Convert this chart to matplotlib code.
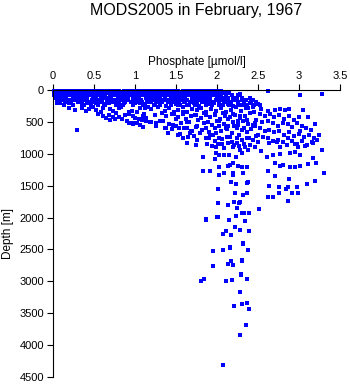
import numpy as np
import matplotlib
matplotlib.use('Agg')
import matplotlib.pyplot as plt

plt.rcParams['font.family'] = ['Liberation Sans', 'DejaVu Sans']

## phosphate [umol/l] vs depth [m] ##

# near-surface band: depth of each row and phosphate values along it
band_depths = [8, 45, 85, 120, 155, 195, 235]
band_phos = [
    [0.01, 0.05, 0.09, 0.14, 0.17, 0.21, 0.26, 0.29, 0.33, 0.38, 0.41, 0.45, 0.50, 0.53,
     0.57, 0.62, 0.65, 0.69, 0.74, 0.77, 0.81, 0.86, 0.89, 0.93, 0.98, 1.01, 1.05, 1.10,
     1.13, 1.17, 1.22, 1.25, 1.29, 1.34, 1.37, 1.41, 1.46, 1.49, 1.53, 1.58, 1.61, 1.65,
     1.70, 1.73, 1.77, 1.82, 1.85, 1.89, 1.94, 1.97, 2.01, 2.05, 2.62],
    [0.02, 0.06, 0.10, 0.13, 0.18, 0.22, 0.25, 0.30, 0.34, 0.37, 0.42, 0.46, 0.49, 0.54,
     0.58, 0.61, 0.66, 0.70, 0.73, 0.78, 0.82, 0.85, 0.90, 0.94, 0.97, 1.02, 1.06, 1.09,
     1.14, 1.18, 1.21, 1.26, 1.30, 1.33, 1.38, 1.42, 1.45, 1.50, 1.54, 1.57, 1.62, 1.66,
     1.69, 1.74, 1.78, 1.81, 1.86, 1.90, 1.93, 1.98, 2.02, 2.06, 2.10, 2.15],
    [0.01, 0.04, 0.09, 0.12, 0.16, 0.21, 0.24, 0.28, 0.33, 0.36, 0.40, 0.45, 0.48, 0.52,
     0.57, 0.60, 0.64, 0.69, 0.72, 0.76, 0.81, 0.84, 0.88, 0.93, 0.96, 1.00, 1.05, 1.08,
     1.12, 1.17, 1.20, 1.24, 1.29, 1.32, 1.36, 1.41, 1.44, 1.48, 1.53, 1.56, 1.60, 1.65,
     1.68, 1.72, 1.77, 1.80, 1.84, 1.89, 1.92, 1.96, 2.00, 2.05, 2.11, 2.18, 2.26],
    [0.03, 0.07, 0.12, 0.16, 0.24, 0.28, 0.33, 0.37, 0.41, 0.49, 0.53, 0.58, 0.62, 0.66,
     0.71, 0.79, 0.83, 0.88, 0.92, 0.97, 1.01, 1.05, 1.13, 1.18, 1.22, 1.27, 1.31, 1.36,
     1.44, 1.48, 1.52, 1.57, 1.61, 1.70, 1.74, 1.79, 1.83, 1.88, 1.92, 2.00, 2.04, 2.09,
     2.13, 2.19, 2.24, 2.31, 2.40],
    [0.05, 0.11, 0.19, 0.26, 0.31, 0.39, 0.47, 0.55, 0.60, 0.68, 0.75, 0.84, 0.90, 0.99,
     1.07, 1.15, 1.21, 1.29, 1.35, 1.42, 1.50, 1.56, 1.63, 1.71, 1.77, 1.85, 1.91, 1.99,
     2.06, 2.14, 2.22, 2.30, 2.35, 2.44],
    [0.08, 0.16, 0.22, 0.34, 0.43, 0.51, 0.57, 0.66, 0.72, 0.79, 0.88, 0.95, 1.03, 1.09,
     1.19, 1.25, 1.33, 1.40, 1.47, 1.54, 1.61, 1.67, 1.75, 1.82, 1.88, 1.95, 2.03, 2.09,
     2.17, 2.25, 2.33, 2.41, 2.47],
    [0.13, 0.24, 0.38, 0.46, 0.55, 0.64, 0.77, 0.85, 0.98, 1.10, 1.23, 1.31, 1.44, 1.52,
     1.64, 1.73, 1.86, 1.94, 2.07, 2.15, 2.28, 2.36, 2.45, 2.53],
]

# isolated surface points on the right
top_p = [2.28, 3.01, 3.28, 2.42, 2.30, 2.35, 2.40, 2.32, 2.38, 2.44, 2.50]
top_d = [70, 78, 68, 150, 120, 160, 200, 240, 280, 260, 224]

# upper layer, low phosphate side (0 - 1.2)
low_p = [0.05, 0.09, 0.15, 0.19, 0.30, 0.35, 0.42, 0.47, 0.52, 0.56, 0.62, 0.68, 0.74, 0.80,
         0.86, 0.95, 1.00, 1.06, 1.12,
         0.19, 0.27, 0.35, 0.40, 0.44, 0.49, 0.52, 0.58, 0.61, 0.69, 0.73, 0.80, 0.83, 0.93,
         0.96, 1.06, 1.12, 1.16,
         0.61, 0.65, 0.69, 0.73, 0.81, 0.84, 0.93, 0.97, 1.00, 1.05, 1.10, 1.14,
         0.93, 0.97, 1.02, 1.06, 0.29]
low_d = [200, 210, 190, 205, 195, 215, 200, 190, 210, 195, 215, 200, 190, 220,
         205, 195, 210, 200, 215,
         275, 310, 280, 330, 300, 270, 320, 340, 290, 300, 335, 280, 260, 345,
         330, 275, 290, 260,
         400, 440, 470, 420, 430, 455, 370, 400, 435, 460, 410, 440,
         510, 540, 520, 555, 627]

# upper layer, middle phosphate (1.1 - 2.5)
mid_p = [1.16, 1.24, 1.30, 1.38, 1.44, 1.50, 1.55, 1.60, 1.66, 1.72, 1.78, 1.83, 1.90, 1.96,
         2.02, 2.08, 2.14, 2.20, 2.26, 2.32,
         1.20, 1.28, 1.36, 1.42, 1.48, 1.53, 1.58, 1.64, 1.70, 1.75, 1.81, 1.87, 1.93, 1.99,
         2.05, 2.11, 2.17, 2.23, 2.29, 2.35,
         1.38, 1.45, 1.52, 1.58, 1.62, 1.68, 1.74, 1.80, 1.86, 1.92, 1.98, 2.04, 2.10, 2.16,
         2.22, 2.28, 2.34,
         1.18, 1.30, 1.42, 1.56, 1.66, 1.76, 1.84, 1.94, 2.00, 2.08, 2.14, 2.20, 2.26, 2.32, 2.38,
         1.45, 1.60, 1.70, 1.82, 1.90, 1.98, 2.05, 2.12, 2.18, 2.24, 2.30, 2.36, 2.42,
         1.40, 1.52, 1.67, 1.79, 1.91, 1.99, 1.26, 1.38, 1.46, 1.54, 1.68, 1.14, 0.97]
mid_d = [185, 230, 200, 245, 190, 220, 240, 195, 230, 210, 250, 185, 225, 205,
         240, 190, 220, 250, 200, 235,
         300, 270, 330, 285, 350, 310, 270, 340, 295, 320, 275, 350, 300, 330,
         285, 345, 310, 270, 325, 290,
         400, 380, 430, 370, 450, 410, 385, 440, 395, 420, 375, 455, 405, 430,
         390, 445, 415,
         500, 480, 540, 520, 495, 560, 510, 545, 490, 530, 565, 505, 550, 485, 535,
         610, 590, 650, 620, 660, 600, 640, 615, 670, 595, 630, 655, 610,
         669, 705, 679, 679, 705, 679, 522, 601, 548, 601, 637, 481, 522]

# more of the 350 - 900 m layer
extra_p = [0.55, 0.68, 0.77, 0.88, 1.03, 1.11, 1.24, 1.33, 1.47, 1.59, 1.73, 1.84, 1.97,
           2.07, 2.19, 2.28, 2.40,
           0.75, 0.90, 1.08, 1.20, 1.34, 1.50, 1.63, 1.77, 1.89, 2.02, 2.13, 2.25, 2.37, 2.46,
           1.10, 1.25, 1.36, 1.50, 1.63, 1.74, 1.87, 2.02, 2.11, 2.21, 2.33, 2.44,
           1.55, 1.72, 1.86, 1.95, 2.03, 2.16, 2.27, 2.39, 2.47,
           1.74, 1.94, 2.09, 2.21, 2.34]
extra_d = [370, 395, 360, 385, 350, 375, 390, 360, 380, 345, 395, 365, 385,
           355, 375, 400, 365,
           455, 490, 470, 500, 480, 455, 495, 470, 505, 480, 460, 490, 475, 510,
           575, 560, 590, 565, 600, 575, 590, 560, 600, 570, 590, 555,
           690, 720, 745, 710, 760, 730, 700, 745, 720,
           860, 880, 910, 870, 890]

# right-hand cluster (2.4 - 3.3), 300 - 900 m
right_p = [2.54, 2.62, 2.71, 2.77, 2.83, 2.88, 3.05, 3.11, 3.20, 3.15, 3.24, 3.01,
           2.45, 2.52, 2.58, 2.65, 2.70, 2.76, 2.82, 2.88, 2.94, 3.00,
           2.48, 2.55, 2.62, 2.68, 2.74, 2.80, 2.86, 2.92, 2.98, 3.04, 3.08,
           2.46, 2.52, 2.58, 2.64, 2.70, 2.76, 2.82, 2.88, 2.94, 3.00, 3.06, 3.12, 3.18,
           2.50, 2.56, 2.62, 2.68, 2.74, 2.80, 2.86, 2.92, 2.98, 3.04, 3.10, 3.16, 3.22]
right_d = [303, 329, 313, 303, 313, 303, 318, 418, 538, 627, 710, 642,
           350, 380, 410, 370, 430, 390, 450, 400, 470, 430,
           470, 500, 480, 520, 560, 510, 540, 580, 520, 560, 600,
           560, 600, 640, 620, 660, 640, 700, 660, 720, 690, 740, 700, 760,
           700, 740, 760, 800, 780, 820, 760, 800, 840, 800, 860, 820, 780]

# lower layer 750 - 2000 m
deep_p = [1.58, 1.65, 1.75, 1.90, 1.98, 2.06, 2.12, 2.18, 2.24, 2.30, 2.36, 2.44, 2.50,
          1.63, 1.88, 1.99, 2.01, 2.06, 2.13, 2.19, 2.24, 2.27, 2.33, 2.40, 2.46,
          2.28, 2.38, 2.54, 1.99, 2.02, 2.09, 2.15, 2.23, 2.31, 1.83, 1.97,
          2.19, 2.16, 2.26, 2.30, 2.02, 2.13, 2.36, 1.83, 1.91, 2.03, 2.09, 2.19,
          2.20, 2.32, 2.62, 2.71,
          2.64, 2.73, 2.77, 2.85, 2.95, 2.99, 3.07, 3.17, 2.68, 2.77, 2.89, 2.95,
          3.01, 2.61, 2.71, 2.77, 2.81, 2.89, 2.95, 3.01, 3.11, 3.17, 3.21, 3.28,
          3.31, 3.19, 3.10, 2.99, 2.92, 2.86, 2.75, 2.75, 2.64, 2.84, 2.88, 2.97,
          2.62, 2.68, 2.86,
          2.01, 2.17, 2.23, 2.36, 2.38, 2.22, 2.32, 2.37, 2.28, 2.27, 2.21, 2.13,
          2.01, 2.51, 2.24, 2.30, 2.33, 2.39, 2.01, 1.86]
deep_d = [760, 730, 790, 750, 800, 770, 740, 810, 760, 790, 745, 780, 820,
          826, 847, 888, 847, 847, 836, 899, 836, 878, 847, 862, 899,
          941, 941, 951, 993, 1019, 1019, 1019, 1045, 993, 1056, 1087,
          1150, 1176, 1192, 1202, 1212, 1192, 1212, 1270, 1270, 1333, 1307, 1296,
          1333, 1307, 1265, 1348,
          826, 810, 888, 862, 847, 888, 878, 836, 1019, 1003, 993, 967,
          1019, 1056, 1150, 1192, 1176, 1202, 1212, 1192, 1160, 1071, 1150, 941,
          1307, 1421, 1479, 1610, 1610, 1516, 1526, 1610, 1505, 1557, 1400, 1516,
          1683, 1683, 1745,
          1557, 1437, 1474, 1463, 1437, 1610, 1646, 1620, 1750, 1766, 1750, 1808,
          1777, 1871, 1855, 1933, 1923, 1923, 1996, 2028]

# abyssal points below 2000 m
abyss_p = [1.86, 2.00, 2.15, 2.23, 2.34, 2.22, 2.11, 2.28, 2.39, 2.07, 2.17, 2.32, 2.32,
           1.95, 2.07, 2.16, 2.16, 2.38, 2.17, 2.13, 2.19, 2.30, 2.30, 1.95, 2.29, 2.29,
           2.37, 2.18, 2.11, 1.84, 1.80, 2.28, 2.21, 2.31, 2.36, 2.39, 2.35, 2.28, 2.07]
abyss_d = [2043, 1996, 2038, 1980, 2053, 2142, 2215, 2194, 2215, 2257, 2278, 2398, 2419,
           2518, 2513, 2466, 2482, 2508, 2675, 2732, 2748, 2680, 2664, 2764, 2878, 2905,
           2968, 2973, 2999, 2968, 2999, 3171, 3385, 3354, 3333, 3437, 3683, 3839, 4310]

x = [p for row in band_phos for p in row]
y = [d for d, row in zip(band_depths, band_phos) for p in row]
x = np.array(x + top_p + low_p + mid_p + extra_p + right_p + deep_p + abyss_p)
y = np.array(y + top_d + low_d + mid_d + extra_d + right_d + deep_d + abyss_d)

fig = plt.figure(figsize=(3.5, 3.84), dpi=100)
ax = fig.add_axes([53/350, 1 - 377/384, 287/350, 287/384])
ax.plot(x, y, 's', ms=2.2, mew=0, color='#0000ff', clip_on=False)

ax.set_xlim(0, 3.5)
ax.set_ylim(4500, 0)
ax.set_xticks([0, 0.5, 1, 1.5, 2, 2.5, 3, 3.5])
ax.set_xticklabels(['0', '0.5', '1', '1.5', '2', '2.5', '3', '3.5'])
ax.set_yticks(range(0, 4501, 500))
ax.xaxis.tick_top()
ax.xaxis.set_label_position('top')
ax.spines['right'].set_visible(False)
ax.spines['bottom'].set_visible(False)
for s in ['top', 'left']:
    ax.spines[s].set_linewidth(0.8)
ax.tick_params(direction='out', length=4, width=0.8, labelsize=8, pad=2.5)
ax.set_xlabel('Phosphate [µmol/l]', fontsize=8.5, labelpad=4)
ax.set_ylabel('Depth [m]', fontsize=8.5, labelpad=4)

fig.text(0.561, 1 - 10/384, 'MODS2005 in February, 1967', ha='center', va='center', fontsize=11.5)

fig.savefig('out.png', dpi=100)
